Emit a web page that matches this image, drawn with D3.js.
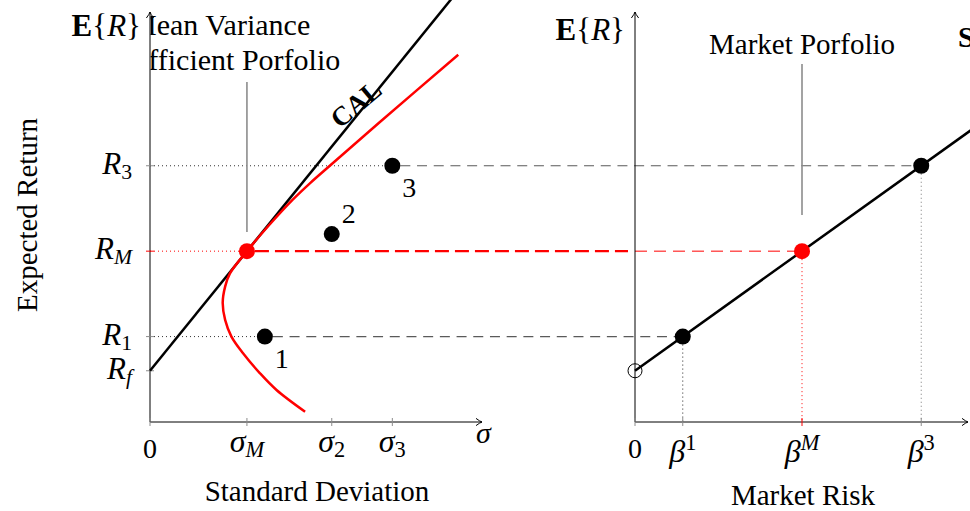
<!DOCTYPE html>
<html><head><meta charset="utf-8">
<script src="https://cdn.jsdelivr.net/npm/d3@7"></script>
<style>
body{margin:0;background:#fff}
svg{display:block}
text{font-family:"Liberation Serif","Times New Roman",serif;fill:#000}
</style>
</head><body>
<svg id="c" width="970" height="511"></svg>
<script>
// ---------- data ----------
const sigmaTicks = [0, 2, 3.75, 5.0];
const sigmaTickLabels = ["0", "σ_M", "σ_2", "σ_3"];
const returnTicks = [1.2, 2, 4, 6];
const returnTickLabels = ["R_f", "R_1", "R_M", "R_3"];
const betaTicks = [0, 0.286, 1, 1.714];
const betaTickLabels = ["0", "β^1", "β^M", "β^3"];
const assetNames = ["1", "2", "3"];
const assetSigma = [2.37, 3.75, 5.0];
const assetReturn = [2, 4.4, 6];
const assetBeta = [0.286, null, 1.714];
const marketSigma = 2, marketReturn = 4, marketBeta = 1;
const riskFree = 1.2;
const frontierSigma = [3.2, 2.61, 2.27, 1.92, 1.68, 1.55, 1.50, 1.55, 1.65, 2.0, 2.45, 2.94, 3.31, 3.71, 4.72, 6.36];
const frontierReturn = [0.24, 0.75, 1.14, 1.61, 2.0, 2.39, 2.79, 3.17, 3.48, 4.0, 4.6, 5.2, 5.6, 6.0, 7.0, 8.6];
const calEndSigma = 6.25;
const smlEndBeta = 2.05;

// ---------- setup ----------
const svg = d3.select("#c");
const xL = d3.scaleLinear().domain([0, 6.85]).range([150, 482]);
const xR = d3.scaleLinear().domain([0, 2]).range([635, 969]);
const y = d3.scaleLinear().domain([0, 9.6]).range([422, 12]);
const RED = "#ff0000", DGRAY = "#5a5a5a", LGRAY = "#8c8c8c";

const defs = svg.append("defs");
defs.append("marker").attr("id", "arr").attr("viewBox", "-8 -5 10 10")
  .attr("refX", 0).attr("refY", 0).attr("markerWidth", 10).attr("markerHeight", 10)
  .attr("markerUnits", "userSpaceOnUse").attr("orient", "auto")
  .append("path").attr("d", "M-6,-3.6 Q-2,-0.6 0,0 Q-2,0.6 -6,3.6")
  .attr("fill", "none").attr("stroke", "#000").attr("stroke-width", 1);
defs.append("clipPath").attr("id", "clipL").append("rect")
  .attr("x", xL(0) + 0.5).attr("y", 0).attr("width", 470).attr("height", 511);

function mathText(sel, str, size) {
  sel.attr("font-size", size);
  const m = str.match(/^(.+?)([_^])(.+)$/);
  if (!m) { sel.append("tspan").text(str); return; }
  const isNum = s => /^[0-9]+$/.test(s);
  sel.append("tspan").attr("font-style", isNum(m[1]) ? "normal" : "italic").text(m[1]);
  sel.append("tspan").attr("font-size", size * 0.7)
    .attr("font-style", isNum(m[3]) ? "normal" : "italic")
    .attr("dy", m[2] === "_" ? size * 0.16 : -size * 0.36)
    .text(m[3]);
}
function line(x1, y1, x2, y2, stroke, w, dash) {
  return svg.append("line").attr("x1", x1).attr("y1", y1).attr("x2", x2).attr("y2", y2)
    .attr("stroke", stroke).attr("stroke-width", w).attr("stroke-dasharray", dash || null);
}

// ---------- guide lines ----------
[0, 2].forEach(i => {
  line(xL(0), y(assetReturn[i]), xL(assetSigma[i]), y(assetReturn[i]), "#333", 1, "1,3");
  line(xL(assetSigma[i]) + 8, y(assetReturn[i]), xR(assetBeta[i]), y(assetReturn[i]), DGRAY, 1.1, "10,6.7");
});
line(xL(0), y(marketReturn), xL(marketSigma), y(marketReturn), RED, 1, "1,3");
line(xL(marketSigma) + 8, y(marketReturn), xR(0) - 7, y(marketReturn), RED, 2.4, "14,6");
line(xR(0), y(marketReturn), xR(marketBeta), y(marketReturn), RED, 1, "12,7");
line(xR(assetBeta[0]), y(assetReturn[0]), xR(assetBeta[0]), y(0), "#222", 1, "1,3");
line(xR(marketBeta), y(marketReturn), xR(marketBeta), y(0), RED, 1, "1,3");
line(xR(assetBeta[2]), y(assetReturn[2]), xR(assetBeta[2]), y(0), "#777", 1, "1,3");

// ---------- axes ----------
line(xL(0), y(0), xL(0), 12, "#000", 1).attr("marker-end", "url(#arr)");
line(xL(0), y(0), 482, y(0), "#000", 1).attr("marker-end", "url(#arr)");
line(xR(0), y(0), xR(0), 12, "#000", 1).attr("marker-end", "url(#arr)");
line(xR(0), y(0), 968, y(0), "#000", 1).attr("marker-end", "url(#arr)");

returnTicks.forEach((v, i) => {
  line(xL(0) - 4, y(v), xL(0) + 4, y(v), i === 2 ? RED : LGRAY, 1);
  mathText(svg.append("text").attr("x", 132).attr("y", y(v) + 8).attr("text-anchor", "end"), returnTickLabels[i], 31);
});
sigmaTicks.forEach((v, i) => {
  line(xL(v), y(0) - 4, xL(v), y(0) + 4, LGRAY, 1);
  const t = svg.append("text").attr("x", xL(v)).attr("text-anchor", "middle")
    .attr("y", i === 0 ? 458 : 452);
  mathText(t, sigmaTickLabels[i], i === 0 ? 28 : 32);
});
betaTicks.forEach((v, i) => {
  line(xR(v), y(0) - 4, xR(v), y(0) + 4, i === 2 ? RED : LGRAY, 1);
  const t = svg.append("text").attr("x", xR(v)).attr("text-anchor", "middle")
    .attr("y", i === 0 ? 458 : 462);
  mathText(t, betaTickLabels[i], i === 0 ? 28 : 32);
});
svg.append("text").attr("x", 476).attr("y", 443).attr("font-size", 30).attr("font-style", "italic").text("σ");

svg.append("text").attr("transform", "translate(37,215) rotate(-90)").attr("text-anchor", "middle")
  .attr("font-size", 29).text("Expected Return");
svg.append("text").attr("x", 317).attr("y", 501).attr("text-anchor", "middle").attr("font-size", 29).text("Standard Deviation");
svg.append("text").attr("x", 803).attr("y", 505).attr("text-anchor", "middle").attr("font-size", 29).text("Market Risk");

function erLabel(x, yb) {
  const t = svg.append("text").attr("x", x).attr("y", yb).attr("text-anchor", "end").attr("font-size", 31);
  t.append("tspan").attr("font-weight", "bold").text("E");
  t.append("tspan").text("{");
  t.append("tspan").attr("font-style", "italic").text("R");
  t.append("tspan").text("}");
}
erLabel(141, 36);
erLabel(625, 40);

// ---------- annotations ----------
line(xL(marketSigma), 82, xL(marketSigma), 232, LGRAY, 1.6);
line(xR(marketBeta), 64, xR(marketBeta), 215, LGRAY, 1.6);
const ann = svg.append("g").attr("clip-path", "url(#clipL)");
ann.append("text").attr("x", 130).attr("y", 35).attr("font-size", 30).text("Mean Variance");
ann.append("text").attr("x", 130).attr("y", 70).attr("font-size", 30).text("Efficient Porfolio");
svg.append("text").attr("x", xR(marketBeta)).attr("y", 54).attr("text-anchor", "middle").attr("font-size", 29).text("Market Porfolio");

// ---------- CAL, frontier, SML ----------
const calSlope = (marketReturn - riskFree) / marketSigma;
line(xL(0), y(riskFree), xL(calEndSigma), y(riskFree + calSlope * calEndSigma), "#000", 2.5);
const frontier = frontierSigma.map((s, i) => [xL(s), y(frontierReturn[i])]);
svg.append("path").attr("d", d3.line().curve(d3.curveCatmullRom.alpha(0.5))(frontier))
  .attr("fill", "none").attr("stroke", RED).attr("stroke-width", 2.5);
const smlSlope = marketReturn - riskFree;
line(xR(0), y(riskFree), xR(smlEndBeta), y(riskFree + smlSlope * smlEndBeta), "#000", 2.5);

svg.append("text").attr("transform", "translate(356,104) rotate(-40)").attr("text-anchor", "middle")
  .attr("dominant-baseline", "central").attr("font-size", 27).attr("font-weight", "bold").text("CAL");
svg.append("text").attr("x", 958).attr("y", 47).attr("font-size", 29).attr("font-weight", "bold").text("SML");

// ---------- points ----------
assetNames.forEach((n, i) => {
  svg.append("circle").attr("cx", xL(assetSigma[i])).attr("cy", y(assetReturn[i])).attr("r", 8).attr("fill", "#000");
  const below = i !== 1;
  svg.append("text").attr("x", xL(assetSigma[i]) + 17).attr("y", y(assetReturn[i]) + (below ? 31 : -11))
    .attr("text-anchor", "middle").attr("font-size", 28).text(n);
  if (assetBeta[i] !== null)
    svg.append("circle").attr("cx", xR(assetBeta[i])).attr("cy", y(assetReturn[i])).attr("r", 8).attr("fill", "#000");
});
svg.append("circle").attr("cx", xL(marketSigma)).attr("cy", y(marketReturn)).attr("r", 8).attr("fill", RED);
svg.append("circle").attr("cx", xR(marketBeta)).attr("cy", y(marketReturn)).attr("r", 8).attr("fill", RED);
svg.append("circle").attr("cx", xR(0)).attr("cy", y(riskFree)).attr("r", 7).attr("fill", "none").attr("stroke", "#000").attr("stroke-width", 1);
</script>
</body></html>
